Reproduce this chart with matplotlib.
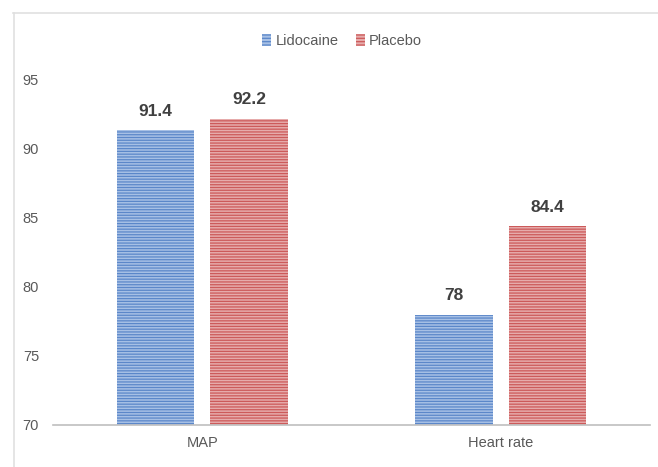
import matplotlib
matplotlib.use("Agg")
import matplotlib.pyplot as plt
import numpy as np
from matplotlib.lines import Line2D
from matplotlib.patches import Patch

categories = ["MAP", "Heart rate"]
series_names = ["Lidocaine", "Placebo"]
lidocaine = [91.4, 78]
placebo = [92.2, 84.4]
yticks = [70, 75, 80, 85, 90, 95]

plt.rcParams['font.family'] = ['Liberation Sans Narrow', 'Liberation Sans', 'DejaVu Sans']
plt.rcParams['hatch.linewidth'] = 0.9

fig = plt.figure(figsize=(6.58, 4.67), dpi=100)
ax = fig.add_axes([0.0805, 0.09, 0.907, 0.739])

x = np.arange(len(categories))
w = 0.26
off = 0.157
face = ["#a7c0e5", "#e6abab"]
edge = ["#5b87c9", "#cc5a5a"]
for vals, sign, fc, ec, name in [(lidocaine, -1, face[0], edge[0], series_names[0]),
                                   (placebo, 1, face[1], edge[1], series_names[1])]:
    ax.bar(x + sign * off, [v - 70 for v in vals], w, bottom=70,
           color=fc, edgecolor=ec, hatch="------", linewidth=0, label=name)
    for xi, v in zip(x + sign * off, vals):
        ax.text(xi, v + 0.8, f"{v:g}", ha="center", va="bottom",
                fontsize=12.5, fontweight="bold", color="#404040")

ax.set_xlim(-0.5, 1.5)
ax.set_ylim(70, 95)
ax.set_yticks(yticks)
ax.set_xticks(x)
ax.set_xticklabels(categories)
ax.tick_params(axis="both", length=0, labelsize=10.5, colors="#595959")
ax.tick_params(axis="y", pad=10)
ax.tick_params(axis="x", pad=8)
for s in ["top", "right", "left"]:
    ax.spines[s].set_visible(False)
ax.spines["bottom"].set_color("#bfbfbf")
ax.spines["bottom"].set_linewidth(1.2)

handles = [Patch(facecolor=face[0], edgecolor=edge[0], hatch="-----", linewidth=0),
           Patch(facecolor=face[1], edgecolor=edge[1], hatch="-----", linewidth=0)]
fig.legend(handles, series_names, loc="center", bbox_to_anchor=(0.52, 0.912),
           ncol=2, frameon=False, fontsize=10.5, handlelength=0.6, handleheight=0.9,
           handletextpad=0.3, columnspacing=1.2, labelcolor="#595959")

# figure border lines (top and left)
fig.add_artist(Line2D([13/658, 1.0], [1 - 12.5/467, 1 - 12.5/467], color="#e0e0e0", lw=1.2,
                      transform=fig.transFigure))
fig.add_artist(Line2D([13.5/658, 13.5/658], [0, 1 - 12.5/467], color="#e0e0e0", lw=1.2,
                      transform=fig.transFigure))

fig.savefig("out.png", dpi=100)
